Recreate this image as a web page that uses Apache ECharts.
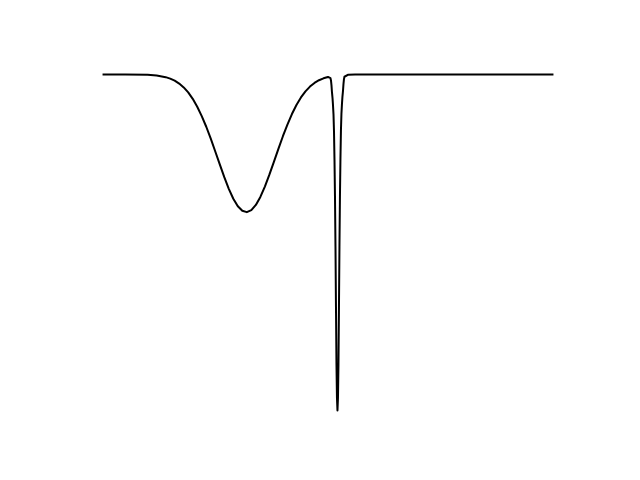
<!DOCTYPE html>
<html>
<head>
<meta charset="utf-8">
<script src="https://cdn.jsdelivr.net/npm/echarts@6/dist/echarts.min.js"></script>
<style>html,body{margin:0;padding:0;background:#fff}#c{width:640px;height:480px}</style>
</head>
<body>
<div id="c"></div>
<script>
// x positions (arbitrary units) and y values
const xValues = [
  0, 5, 10, 12, 14, 15, 16, 17, 18, 19, 20, 21, 22, 23, 24, 25, 26, 27, 28, 29,
  30, 31, 32, 33, 34, 35, 36, 37, 38, 39, 40, 41, 42, 43, 44, 45, 46, 47, 48, 49, 50,
  50.33, 50.55, 50.66, 50.77, 50.88, 51.0, 51.1, 51.22, 51.33, 51.44, 51.55, 51.66, 51.77, 51.88, 51.99, 52.1,
  52.21, 52.32, 52.43, 52.54, 52.65, 52.76, 52.87, 52.98, 53.1, 53.2, 53.32, 53.43, 53.54, 53.65, 53.87,
  54.5, 56, 60, 70, 80, 90, 100
];
const yValues = [
  1, 1, 0.9988, 0.9967, 0.9918, 0.9875, 0.9813, 0.9727, 0.9613, 0.9463, 0.9272, 0.9038, 0.876, 0.8442, 0.8086, 0.7706, 0.732, 0.6941, 0.6595, 0.630,
  0.6077, 0.594, 0.590, 0.596, 0.6115, 0.6354, 0.666, 0.7015, 0.7396, 0.7783, 0.816, 0.8508, 0.882, 0.9089, 0.9314, 0.9496, 0.9638, 0.9746, 0.9827, 0.9884, 0.9925,
  0.9925, 0.989, 0.982, 0.968, 0.947, 0.930, 0.910, 0.881, 0.831, 0.746, 0.636, 0.487, 0.307, 0.137, 0.037, 0.000,
  0.037, 0.137, 0.307, 0.487, 0.637, 0.748, 0.833, 0.883, 0.913, 0.933, 0.950, 0.971, 0.986, 0.993, 0.9976,
  0.9992, 0.9997, 1, 1, 1, 1, 1
];
const seriesData = xValues.map((x, i) => [x, yValues[i]]);

const chart = echarts.init(document.getElementById('c'), null, {renderer: 'canvas'});
chart.setOption({
  animation: false,
  backgroundColor: '#ffffff',
  grid: {left: 80, right: 64, top: 57.6, bottom: 52.8, containLabel: false},
  xAxis: {
    type: 'value', min: -5, max: 105,
    show: false, splitLine: {show: false}
  },
  yAxis: {
    type: 'value', min: -0.05, max: 1.05,
    show: false, splitLine: {show: false}
  },
  series: [{
    type: 'line',
    data: seriesData,
    showSymbol: false,
    symbol: 'none',
    lineStyle: {color: '#000000', width: 2, join: 'round', cap: 'butt'},
    clip: false
  }]
});
</script>
</body>
</html>
